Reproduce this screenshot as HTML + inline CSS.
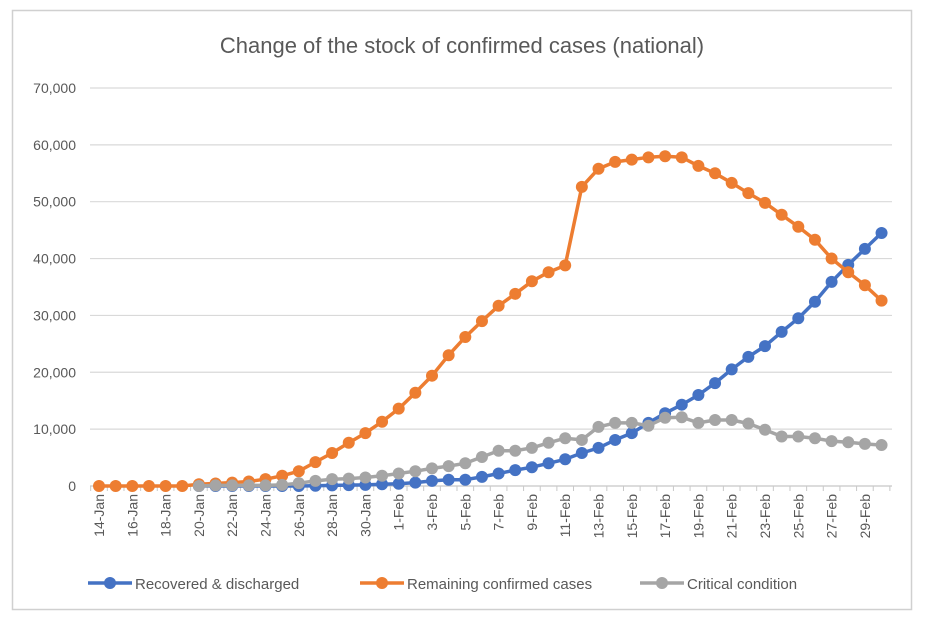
<!DOCTYPE html>
<html><head><meta charset="utf-8"><style>
body{margin:0;background:#fff}
svg{display:block;font-family:"Liberation Sans",sans-serif}
</style></head><body>
<svg id="c" width="925" height="617" viewBox="0 0 925 617" xmlns="http://www.w3.org/2000/svg">
<rect x="0" y="0" width="925" height="617" fill="#fff"/>
<rect x="12.5" y="10.5" width="899" height="599" fill="none" stroke="#d0d0d0" stroke-width="1.5"/>
<text x="462" y="53" text-anchor="middle" font-size="22" fill="#595959">Change of the stock of confirmed cases (national)</text>
<g id="grid"></g>
<g id="series"></g>
<g font-size="15" fill="#595959">
<line x1="88" y1="583" x2="132" y2="583" stroke="#4472C4" stroke-width="3.5"/><circle cx="110" cy="583" r="6" fill="#4472C4"/>
<text x="135" y="589">Recovered &amp; discharged</text>
<line x1="360" y1="583" x2="404" y2="583" stroke="#ED7D31" stroke-width="3.5"/><circle cx="382" cy="583" r="6" fill="#ED7D31"/>
<text x="407" y="589">Remaining confirmed cases</text>
<line x1="640" y1="583" x2="684" y2="583" stroke="#A5A5A5" stroke-width="3.5"/><circle cx="662" cy="583" r="6" fill="#A5A5A5"/>
<text x="687" y="589">Critical condition</text>
</g>
</svg>
<script>
var NS="http://www.w3.org/2000/svg";
function el(t,a,p,txt){var e=document.createElementNS(NS,t);for(var k in a)e.setAttribute(k,a[k]);if(txt)e.textContent=txt;p.appendChild(e);return e;}
var x0=99,dx=16.65,y0=486,py=5.686;
function X(i){return x0+i*dx}function Y(v){return y0-v*py}
var g=document.getElementById('grid');
for(var k=0;k<=7;k++){var y=Y(k*10);
 el('line',{x1:90,x2:892,y1:y,y2:y,stroke:k==0?'#c8c8c8':'#d9d9d9','stroke-width':1.2},g);
 el('text',{x:76,y:y+5,'text-anchor':'end','font-size':14,fill:'#595959'},g,k==0?'0':(k*10)+',000');}
for(var i=0;i<=48;i++){var x=X(i)-dx/2;el('line',{x1:x,x2:x,y1:486,y2:491,stroke:'#c8c8c8','stroke-width':1},g);}
var labs=[];
for(var d=14;d<=31;d+=2)labs.push([d-14,d+'-Jan']);
for(var d=1;d<=29;d+=2)labs.push([17+d,d+'-Feb']);
labs.forEach(function(l){var x=X(l[0])+5,y=494;el('text',{x:x,y:y,'text-anchor':'end','font-size':14,fill:'#595959',transform:'rotate(-90 '+x+' '+y+')'},g,l[1]);});
var orange=[0,0,0,0,0,0,0.3,0.45,0.6,0.8,1.2,1.8,2.6,4.2,5.8,7.6,9.3,11.3,13.6,16.4,19.4,23,26.2,29,31.7,33.8,36,37.6,38.8,52.6,55.8,57,57.4,57.8,58,57.8,56.3,55,53.3,51.5,49.8,47.7,45.6,43.3,40,37.6,35.3,32.6];
var blue=[null,null,null,null,null,null,0,0,0,0,0,0,0,0.05,0.1,0.15,0.2,0.3,0.4,0.6,0.9,1.1,1.1,1.6,2.2,2.8,3.3,4,4.7,5.8,6.7,8.1,9.3,11.1,12.8,14.3,16,18.1,20.5,22.7,24.6,27.1,29.5,32.4,35.9,38.9,41.7,44.5];
var gray=[null,null,null,null,null,null,0,0.1,0.1,0.1,0.1,0.2,0.5,0.9,1.2,1.3,1.5,1.8,2.2,2.6,3.1,3.5,4,5.1,6.2,6.2,6.7,7.6,8.4,8.1,10.4,11.1,11.1,10.6,12,12.1,11.1,11.6,11.6,11,9.9,8.7,8.7,8.4,7.9,7.7,7.4,7.2];
var s=document.getElementById('series');
function draw(d,c){var p=[];d.forEach(function(v,i){if(v!==null)p.push(X(i).toFixed(1)+','+Y(v).toFixed(1));});
 el('polyline',{points:p.join(' '),fill:'none',stroke:c,'stroke-width':3.5,'stroke-linejoin':'round'},s);
 d.forEach(function(v,i){if(v!==null)el('circle',{cx:X(i),cy:Y(v),r:6,fill:c},s);});}
draw(blue,'#4472C4');draw(orange,'#ED7D31');draw(gray,'#A5A5A5');
</script>
</body></html>
